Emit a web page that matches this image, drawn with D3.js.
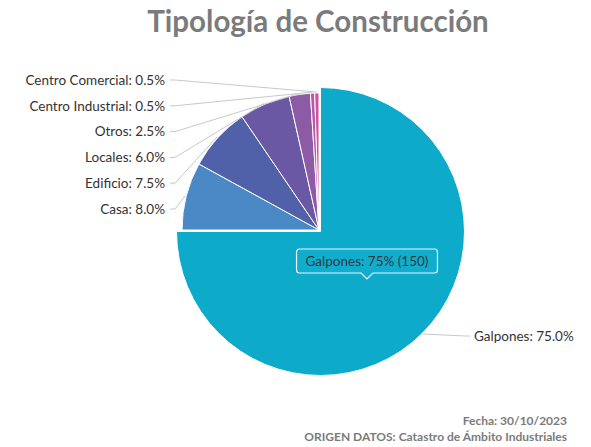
<!DOCTYPE html>
<html>
<head>
<meta charset="utf-8">
<script src="https://cdn.jsdelivr.net/npm/d3@7"></script>
<style>
  body { margin: 0; background: #fff; }
  svg { font-family: "Lato", "Open Sans", sans-serif; }
</style>
</head>
<body>
<svg id="chart" width="591" height="447"></svg>
<script>
// datos del grafico
const categories = ["Galpones", "Casa", "Edificio", "Locales", "Otros", "Centro Industrial", "Centro Comercial"];
const values = [150, 16, 15, 12, 5, 1, 1];
const colors = ["#0eaac9", "#4a88c6", "#5061a9", "#6a58a4", "#8d5ba5", "#b45aa9", "#d2519d"];
const titleText = "Tipología de Construcción";
const footerLines = ["Fecha: 30/10/2023", "ORIGEN DATOS: Catastro de Ámbito Industriales"];

const width = 591, height = 447;
const cx = 319, cy = 230;
const radius = 137;
const hoverRadius = 144;

const svg = d3.select("#chart");
const total = d3.sum(values);
const items = categories.map((c, i) => ({ name: c, value: values[i], color: colors[i] }));

const pie = d3.pie().value(d => d.value).sort(null);
const arcs = pie(items);

const arc = d3.arc().innerRadius(0).outerRadius(radius);
const arcHover = d3.arc().innerRadius(0).outerRadius(hoverRadius);

const g = svg.append("g").attr("transform", `translate(${cx},${cy})`);

// slices (Galpones is the hovered one, drawn bigger)
g.selectAll("path.slice")
  .data(arcs)
  .join("path")
  .attr("class", "slice")
  .attr("d", (d, i) => i === 0 ? arcHover(d) : arc(d))
  .attr("transform", (d, i) => i === 0 ? "translate(1.5,1.5)" : null)
  .attr("fill", d => d.data.color)
  .attr("stroke", "#fff")
  .attr("stroke-width", 1);

// labels
const pct = d3.format(".1f");
const fontSize = 13.5;
const labelStep = 25.8;
const smallOnes = arcs.slice(1);

// left side labels stacked from bottom up
smallOnes.forEach((d, k) => {
  const ly = cy - 21 - k * labelStep;
  const lx = 165;
  const mid = (d.startAngle + d.endAngle) / 2;
  const ex = cx + Math.sin(mid) * (radius + 1);
  const ey = cy - Math.cos(mid) * (radius + 1);
  svg.append("path")
    .attr("d", d3.line()([[lx + 5, ly], [lx + 10, ly], [ex, ey]]))
    .attr("fill", "none")
    .attr("stroke", "#c8c8c8")
    .attr("stroke-width", 1);
  svg.append("text")
    .attr("x", lx)
    .attr("y", ly)
    .attr("dy", "0.35em")
    .attr("text-anchor", "end")
    .attr("font-size", fontSize)
    .attr("fill", "#333")
    .text(`${d.data.name}: ${pct(d.data.value / total * 100)}%`);
});

// Galpones label on the right
{
  const d = arcs[0];
  const mid = (d.startAngle + d.endAngle) / 2;
  const ex = cx + 1.5 + Math.sin(mid) * (hoverRadius + 1);
  const ey = cy + 1.5 - Math.cos(mid) * (hoverRadius + 1);
  const lx = 474, ly = 336;
  svg.append("path")
    .attr("d", d3.line()([[ex, ey], [lx - 8, ly], [lx - 4, ly]]))
    .attr("fill", "none")
    .attr("stroke", "#c8c8c8")
    .attr("stroke-width", 1);
  svg.append("text")
    .attr("x", lx)
    .attr("y", ly)
    .attr("dy", "0.35em")
    .attr("font-size", fontSize)
    .attr("fill", "#333")
    .text(`${d.data.name}: ${pct(d.data.value / total * 100)}%`);
}

// tooltip
{
  const d = arcs[0];
  const tipText = `${d.data.name}: ${Math.round(d.data.value / total * 100)}% (${d.data.value})`;
  const tx = 367, ty = 261;
  const tip = svg.append("g");
  const label = tip.append("text")
    .attr("x", tx)
    .attr("y", ty)
    .attr("dy", "0.35em")
    .attr("text-anchor", "middle")
    .attr("font-size", fontSize)
    .attr("fill", "#2b3a40")
    .text(tipText);
  const bb = label.node().getBBox();
  const x0 = tx - bb.width / 2 - 9, x1 = tx + bb.width / 2 + 9;
  const y0 = ty - 12, y1 = ty + 12;
  const r = 3;
  const p = d3.path();
  p.moveTo(x0 + r, y0);
  p.lineTo(x1 - r, y0);
  p.quadraticCurveTo(x1, y0, x1, y0 + r);
  p.lineTo(x1, y1 - r);
  p.quadraticCurveTo(x1, y1, x1 - r, y1);
  p.lineTo(tx + 6, y1);
  p.lineTo(tx, y1 + 6);
  p.lineTo(tx - 6, y1);
  p.lineTo(x0 + r, y1);
  p.quadraticCurveTo(x0, y1, x0, y1 - r);
  p.lineTo(x0, y0 + r);
  p.quadraticCurveTo(x0, y0, x0 + r, y0);
  p.closePath();
  tip.insert("path", "text")
    .attr("d", p.toString())
    .attr("fill", "#12adcc")
    .attr("stroke", "#e6f7fb")
    .attr("stroke-width", 1.2);
}

// title
svg.append("text")
  .attr("x", 318)
  .attr("y", 32)
  .attr("text-anchor", "middle")
  .attr("font-size", 29.5)
  .attr("font-weight", "bold")
  .attr("fill", "#7b7b7b")
  .text(titleText);

// footer
svg.append("text")
  .attr("x", 567)
  .attr("y", 425)
  .attr("text-anchor", "end")
  .attr("font-size", 12)
  .attr("font-weight", "bold")
  .attr("fill", "#7b7b7b")
  .text(footerLines[0]);
svg.append("text")
  .attr("x", 567)
  .attr("y", 441)
  .attr("text-anchor", "end")
  .attr("font-size", 12)
  .attr("font-weight", "bold")
  .attr("fill", "#7b7b7b")
  .text(footerLines[1]);
</script>
</body>
</html>
